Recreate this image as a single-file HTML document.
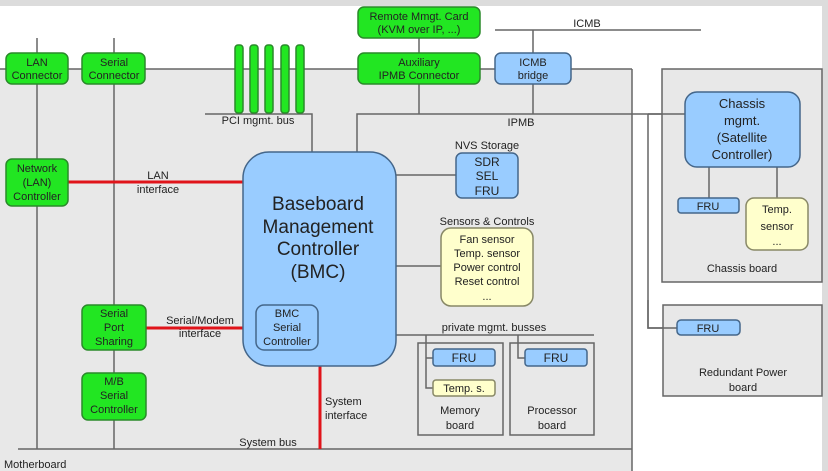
<!DOCTYPE html>
<html><head><meta charset="utf-8"><style>
html,body{margin:0;padding:0;background:#fff}
svg{display:block}
text{font-family:"Liberation Sans",sans-serif;font-size:11px;fill:#222}
</style></head><body>
<svg width="828" height="471" viewBox="0 0 828 471" xmlns="http://www.w3.org/2000/svg">
<rect x="0" y="0" width="828" height="471" fill="#fff"/>
<rect x="0" y="0" width="828" height="6" fill="#dcdcdc"/>
<rect x="822" y="0" width="6" height="471" fill="#dcdcdc"/>
<!-- motherboard -->
<rect x="0" y="69" width="632" height="402" fill="#e8e8e8"/>
<g stroke="#666" stroke-width="1.5" fill="none">
<line x1="0" y1="69" x2="632" y2="69"/>
<line x1="632" y1="69" x2="632" y2="471"/>
<line x1="18" y1="449" x2="632" y2="449"/>
<line x1="37" y1="38" x2="37" y2="449"/>
<line x1="114" y1="38" x2="114" y2="449"/>
<polyline points="205,114 312,114 312,153"/>
<line x1="419" y1="38" x2="419" y2="114"/>
<line x1="495" y1="30" x2="701" y2="30"/>
<line x1="533" y1="30" x2="533" y2="114"/>
<polyline points="357,153 357,114 685,114"/>
<polyline points="648,114 648,328 677,328"/>
<line x1="396" y1="175" x2="456" y2="175"/>
<line x1="396" y1="266" x2="441" y2="266"/>
<line x1="396" y1="335" x2="594" y2="335"/>
</g>
<!-- chassis / power boards -->
<rect x="662" y="69" width="160" height="213" fill="#e8e8e8" stroke="#666" stroke-width="1.5"/>
<rect x="663" y="305" width="159" height="91" fill="#e8e8e8" stroke="#666" stroke-width="1.5"/>
<line x1="648" y1="114" x2="685" y2="114" stroke="#666" stroke-width="1.5"/>
<line x1="709" y1="167" x2="709" y2="198" stroke="#666" stroke-width="1.5"/>
<line x1="777" y1="167" x2="777" y2="198" stroke="#666" stroke-width="1.5"/>
<polyline points="648,300 648,328 677,328" stroke="#666" stroke-width="1.5" fill="none"/>
<rect x="418" y="343" width="85" height="92" fill="#e8e8e8" stroke="#666" stroke-width="1.5"/>
<rect x="510" y="343" width="84" height="92" fill="#e8e8e8" stroke="#666" stroke-width="1.5"/>
<polyline points="426,335 426,388 433,388" stroke="#666" stroke-width="1.5" fill="none"/>
<line x1="426" y1="358" x2="433" y2="358" stroke="#666" stroke-width="1.5"/>
<polyline points="518,335 518,358 525,358" stroke="#666" stroke-width="1.5" fill="none"/>
<!-- red lines -->
<g stroke="#e0141a" stroke-width="3">
<line x1="68" y1="182" x2="243" y2="182"/>
<line x1="146" y1="328" x2="256" y2="328"/>
<line x1="320" y1="366" x2="320" y2="449"/>
</g>
<!-- green boxes -->
<g fill="#22e622" stroke="#2a8a2a" stroke-width="1.5">
<rect x="6" y="53" width="62" height="31" rx="6"/>
<rect x="82" y="53" width="63" height="31" rx="6"/>
<rect x="358" y="7" width="122" height="31" rx="6"/>
<rect x="358" y="53" width="122" height="31" rx="6"/>
<rect x="6" y="159" width="62" height="47" rx="6"/>
<rect x="82" y="305" width="64" height="45" rx="6"/>
<rect x="82" y="373" width="64" height="47" rx="6"/>
<rect x="235" y="45" width="8" height="68" rx="3"/>
<rect x="250" y="45" width="8" height="68" rx="3"/>
<rect x="265" y="45" width="8" height="68" rx="3"/>
<rect x="281" y="45" width="8" height="68" rx="3"/>
<rect x="296" y="45" width="8" height="68" rx="3"/>
</g>
<!-- blue -->
<g fill="#99ccff" stroke="#44668a" stroke-width="1.5">
<rect x="243" y="152" width="153" height="214" rx="26"/>
<rect x="256" y="305" width="62" height="45" rx="8"/>
<rect x="495" y="53" width="76" height="31" rx="6"/>
<rect x="456" y="153" width="62" height="45" rx="6"/>
<rect x="685" y="92" width="115" height="75" rx="12"/>
<rect x="678" y="198" width="61" height="15" rx="3"/>
<rect x="677" y="320" width="63" height="15" rx="4"/>
<rect x="433" y="349" width="62" height="17" rx="3"/>
<rect x="525" y="349" width="62" height="17" rx="3"/>
</g>
<g fill="#ffffcc" stroke="#888866" stroke-width="1.5">
<rect x="441" y="228" width="92" height="78" rx="10"/>
<rect x="746" y="198" width="62" height="52" rx="8"/>
<rect x="433" y="380" width="62" height="16" rx="3"/>
</g>
<!-- text -->
<g text-anchor="middle">
<text x="37" y="66">LAN</text><text x="37" y="79">Connector</text>
<text x="114" y="66">Serial</text><text x="114" y="79">Connector</text>
<text x="419" y="20">Remote Mmgt. Card</text><text x="419" y="33">(KVM over IP, ...)</text>
<text x="419" y="66">Auxiliary</text><text x="419" y="79">IPMB Connector</text>
<text x="533" y="66">ICMB</text><text x="533" y="79">bridge</text>
<text x="37" y="172">Network</text><text x="37" y="186">(LAN)</text><text x="37" y="200">Controller</text>
<text x="114" y="317">Serial</text><text x="114" y="331">Port</text><text x="114" y="345">Sharing</text>
<text x="114" y="385">M/B</text><text x="114" y="399">Serial</text><text x="114" y="413">Controller</text>
<text x="258" y="124">PCI mgmt. bus</text>
<text x="158" y="179">LAN</text><text x="158" y="193">interface</text>
<text x="200" y="324">Serial/Modem</text><text x="200" y="337">interface</text>
<text x="318" y="210" style="font-size:19px">Baseboard</text><text x="318" y="233" style="font-size:19px">Management</text><text x="318" y="255" style="font-size:19px">Controller</text><text x="318" y="278" style="font-size:19px">(BMC)</text>
<text x="287" y="317">BMC</text><text x="287" y="331">Serial</text><text x="287" y="345">Controller</text>
<text x="587" y="27">ICMB</text>
<text x="521" y="126">IPMB</text>
<text x="487" y="149">NVS Storage</text>
<text x="487" y="166" style="font-size:12px">SDR</text><text x="487" y="180" style="font-size:12px">SEL</text><text x="487" y="195" style="font-size:12px">FRU</text>
<text x="487" y="225">Sensors &amp; Controls</text>
<text x="487" y="243">Fan sensor</text><text x="487" y="257">Temp. sensor</text><text x="487" y="271">Power control</text><text x="487" y="285">Reset control</text><text x="487" y="300">...</text>
<text x="494" y="331">private mgmt. busses</text>
<text x="464" y="362" style="font-size:12px">FRU</text><text x="556" y="362" style="font-size:12px">FRU</text>
<text x="464" y="392">Temp. s.</text>
<text x="460" y="414">Memory</text><text x="460" y="429">board</text>
<text x="552" y="414">Processor</text><text x="552" y="429">board</text>
<text x="742" y="108" style="font-size:13px">Chassis</text><text x="742" y="125" style="font-size:13px">mgmt.</text><text x="742" y="142" style="font-size:13px">(Satellite</text><text x="742" y="159" style="font-size:13px">Controller)</text>
<text x="708" y="210">FRU</text>
<text x="777" y="213">Temp.</text><text x="777" y="230">sensor</text><text x="777" y="245">...</text>
<text x="742" y="272">Chassis board</text>
<text x="708" y="332">FRU</text>
<text x="743" y="376">Redundant Power</text><text x="743" y="391">board</text>
<text x="268" y="446">System bus</text>
</g>
<text x="325" y="405">System</text><text x="325" y="419">interface</text>
<text x="4" y="468">Motherboard</text>
</svg>
</body></html>
